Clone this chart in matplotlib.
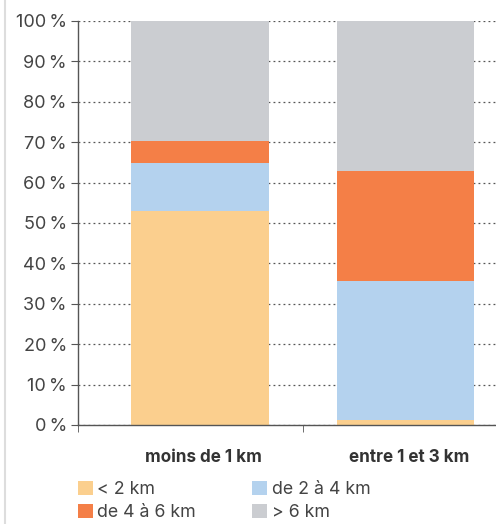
import numpy as np
import matplotlib
matplotlib.use("Agg")
import matplotlib.pyplot as plt
from matplotlib.lines import Line2D

plt.rcParams['font.family'] = ['Inter', 'DejaVu Sans']

categories = ['moins de 1 km', 'entre 1 et 3 km']
series = ['< 2 km', 'de 2 à 4 km', 'de 4 à 6 km', '> 6 km']
values = {
    '< 2 km':      [53.0, 1.3],
    'de 2 à 4 km': [11.9, 34.3],
    'de 4 à 6 km': [5.4, 27.3],
    '> 6 km':      [29.7, 37.1],
}
colors = {
    '< 2 km': '#FBCF8E',
    'de 2 à 4 km': '#B4D2EE',
    'de 4 à 6 km': '#F47F47',
    '> 6 km': '#CBCDD1',
}
yticks = np.arange(0, 101, 10)

fig = plt.figure(figsize=(4.96, 5.24), dpi=100)
ax = fig.add_axes([0.157, 0.189, 0.843, 0.771])

x = np.arange(len(categories))
bottom = np.zeros(len(categories))
handles = {}
for s in series:
    h = ax.bar(x, values[s], bottom=bottom, width=0.67, color=colors[s],
               label=s, zorder=2)
    handles[s] = h
    bottom += np.array(values[s])

ax.set_xlim(-0.592, 1.44)
ax.set_ylim(0, 100)
ax.set_yticks(yticks)
ax.set_yticklabels([f'{v}\u2009%' for v in yticks], fontsize=13, color='#444444')
ax.yaxis.grid(True, linestyle=(0, (1.5, 2.5)), color='#555555', linewidth=0.9, zorder=0)
ax.set_axisbelow(True)

ax.set_xticks(x + 0.02)
ax.set_xticklabels(categories, fontsize=12.3, fontweight='bold', color='#333333')
ax.tick_params(axis='x', length=0, pad=17)
ax.set_xticks([-0.592, 0.5], minor=True)
ax.tick_params(axis='x', which='minor', length=5, color='#555555')
ax.tick_params(axis='y', length=5, color='#555555', pad=3)

for sp in ['top', 'right']:
    ax.spines[sp].set_visible(False)
for sp in ['left', 'bottom']:
    ax.spines[sp].set_color('#555555')
    ax.spines[sp].set_linewidth(1.0)

# light frame line on the left edge
fig.add_artist(Line2D([0.011, 0.011], [0, 1], color='#DDDDDD', linewidth=1.5))

order = ['< 2 km', 'de 4 à 6 km', 'de 2 à 4 km', '> 6 km']
fig.legend([handles[s] for s in order], order, loc='upper left',
           bbox_to_anchor=(0.157, 0.082), ncol=2, frameon=False,
           fontsize=12.8, labelcolor='#444444', handlelength=0.85, handleheight=0.85,
           handletextpad=0.25, columnspacing=3.15, labelspacing=0.3,
           borderaxespad=0, borderpad=0)

fig.savefig('out.png', dpi=100)
